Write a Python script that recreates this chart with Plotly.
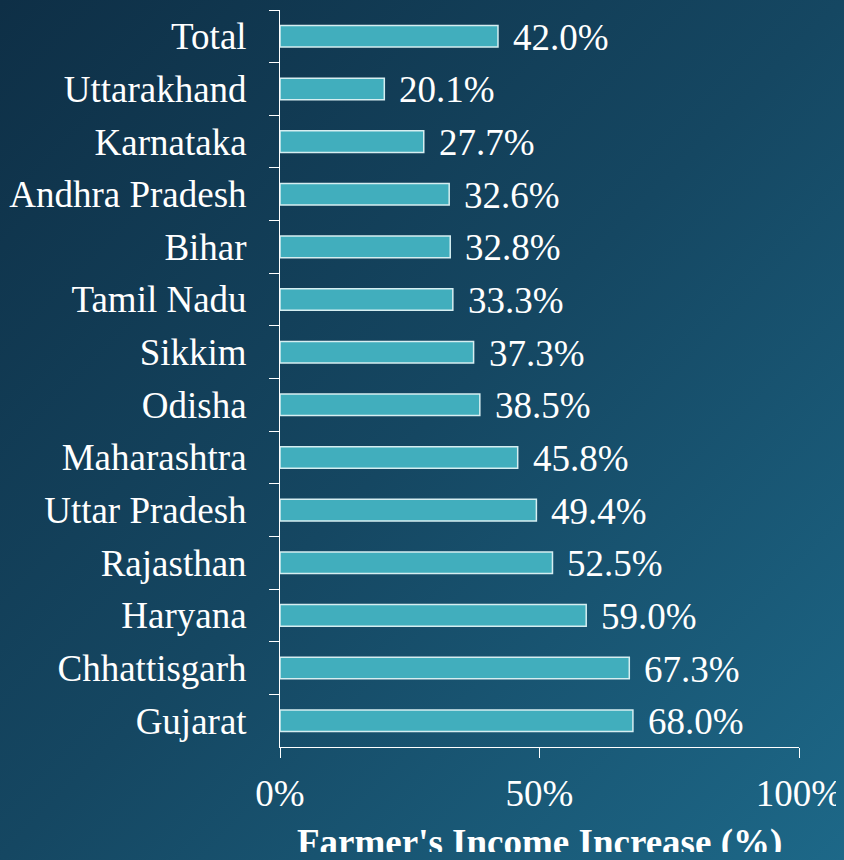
import plotly.graph_objects as go

states = ["Total", "Uttarakhand", "Karnataka", "Andhra Pradesh", "Bihar", "Tamil Nadu",
          "Sikkim", "Odisha", "Maharashtra", "Uttar Pradesh", "Rajasthan", "Haryana",
          "Chhattisgarh", "Gujarat"]
increase = [42.0, 20.1, 27.7, 32.6, 32.8, 33.3, 37.3, 38.5, 45.8, 49.4, 52.5, 59.0, 67.3, 68.0]
x_ticks = [0, 50, 100]
x_tick_labels = ["0%", "50%", "100%"]
x_title = "Farmer's Income Increase (%)"

FONT = "Liberation Serif, Times New Roman, serif"
# page has an 8px body margin; figure sized so the whole page fits 844x860
W, H = 836, 844
ML, MR, MT, MB = 272, 45, 2, 105

fig = go.Figure()
fig.add_trace(go.Bar(
    x=increase, y=states, orientation="h", width=0.41,
    marker=dict(color="#41aebd", line=dict(color="#d6eef1", width=1.5)),
    hoverinfo="x+y",
))

for s, v in zip(states, increase):
    fig.add_annotation(x=v, y=s, text=f"{v:.1f}%", showarrow=False, xanchor="left",
                       yanchor="middle", xshift=13, yshift=-1,
                       font=dict(family=FONT, size=37, color="white"))

# axis title placed below the tick labels
fig.add_annotation(x=0.5, y=0, xref="paper", yref="paper", text=f"<b>{x_title}</b>",
                   showarrow=False, xanchor="center", yanchor="middle", yshift=-96,
                   font=dict(family=FONT, size=37, color="white"))

fig.update_layout(
    width=W, height=H, autosize=False,
    margin=dict(l=ML, r=MR, t=MT, b=MB, pad=0, autoexpand=False),
    paper_bgcolor="rgba(0,0,0,0)", plot_bgcolor="rgba(0,0,0,0)",
    font=dict(family=FONT, size=37, color="white"),
    showlegend=False,
    xaxis=dict(range=[0, 100], tickvals=x_ticks, ticktext=x_tick_labels, automargin=False,
               showgrid=False, zeroline=False, showline=True, linecolor="white", linewidth=1,
               ticks="outside", ticklen=10, tickcolor="white", tickwidth=1,
               ticklabelstandoff=4,
               tickfont=dict(family=FONT, size=37, color="white")),
    yaxis=dict(categoryorder="array", categoryarray=states, autorange="reversed",
               automargin=False,
               showgrid=False, zeroline=False, showline=True, linecolor="white", linewidth=1,
               ticks="outside", ticklen=10, tickcolor="white", tickwidth=1, tickson="boundaries",
               ticklabelstandoff=25,
               tickfont=dict(family=FONT, size=37, color="white")),
)

post = ("var h=document.documentElement;"
        "h.style.background='linear-gradient(to bottom right,#0e2f46 0%,#154762 50%,#1d6888 100%) "
        "0 0/844px 860px no-repeat #154762';")

fig.write_html("out.html", config={"displayModeBar": False}, post_script=post)
